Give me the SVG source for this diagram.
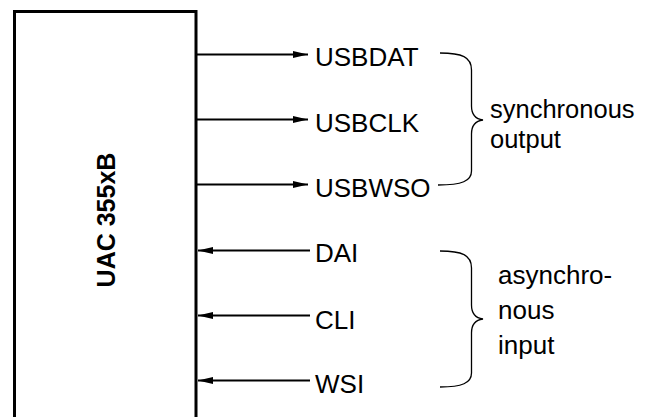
<svg xmlns="http://www.w3.org/2000/svg" width="654" height="417" viewBox="0 0 654 417">
<defs>
<style>
.box{fill:none;stroke:#000;stroke-width:3}
.wire{fill:none;stroke:#000;stroke-width:2}
.brace{fill:none;stroke:#000;stroke-width:1.3}
.lbl{font-family:"Liberation Sans",Arial,sans-serif;font-size:26px;fill:#000}
.grp{font-size:25.5px}
.title{font-family:"Liberation Sans",Arial,sans-serif;font-size:25px;font-weight:bold;fill:#000}
</style>
<marker id="ah" markerUnits="userSpaceOnUse" markerWidth="16" markerHeight="8" refX="15" refY="4" orient="auto">
<path d="M0,0.5 L15,4 L0,7.5 z" fill="#000"/>
</marker>
</defs>
<rect width="654" height="417" fill="#fff"/>
<g id="chip">
<path class="box" d="M14.5,420 V11.5 H196 V420"/>
<text class="title" transform="translate(115,220) rotate(-90)" text-anchor="middle">UAC 355xB</text>
</g>
<g id="connectors">
<line class="wire" x1="197" y1="54.5" x2="308" y2="54.5" marker-end="url(#ah)"/>
<line class="wire" x1="197" y1="119.5" x2="308" y2="119.5" marker-end="url(#ah)"/>
<line class="wire" x1="197" y1="184.5" x2="308" y2="184.5" marker-end="url(#ah)"/>
<line class="wire" x1="310" y1="250.5" x2="198" y2="250.5" marker-end="url(#ah)"/>
<line class="wire" x1="310" y1="315.5" x2="198" y2="315.5" marker-end="url(#ah)"/>
<line class="wire" x1="310" y1="380.5" x2="198" y2="380.5" marker-end="url(#ah)"/>
</g>
<g id="USBDAT"><text class="lbl" x="315" y="66">USBDAT</text></g>
<g id="USBCLK"><text class="lbl" x="315" y="131.5">USBCLK</text></g>
<g id="USBWSO"><text class="lbl" x="315" y="196.5">USBWSO</text></g>
<g id="DAI"><text class="lbl" x="315" y="262">DAI</text></g>
<g id="CLI"><text class="lbl" x="315" y="328.5">CLI</text></g>
<g id="WSI"><text class="lbl" x="315" y="393">WSI</text></g>
<g id="sync-group">
<path class="brace" d="M440,53 C462,53 471.5,57 471.5,70 L471.5,106 C471.5,114 475,119 483,120 C475,121 471.5,126 471.5,134 L471.5,171 C471.5,181 462,185 438,185"/>
<text class="lbl grp" x="490" y="118">synchronous</text>
<text class="lbl grp" x="490" y="147.5">output</text>
</g>
<g id="async-group">
<path class="brace" d="M440,251 C462,251 471.5,255 471.5,268 L471.5,305 C471.5,313 475,318 483,319 C475,320 471.5,325 471.5,333 L471.5,373 C471.5,383 462,387 440,387"/>
<text class="lbl" x="498" y="283.5">asynchro-</text>
<text class="lbl" x="498" y="318.5">nous</text>
<text class="lbl" x="498" y="354">input</text>
</g>
</svg>
